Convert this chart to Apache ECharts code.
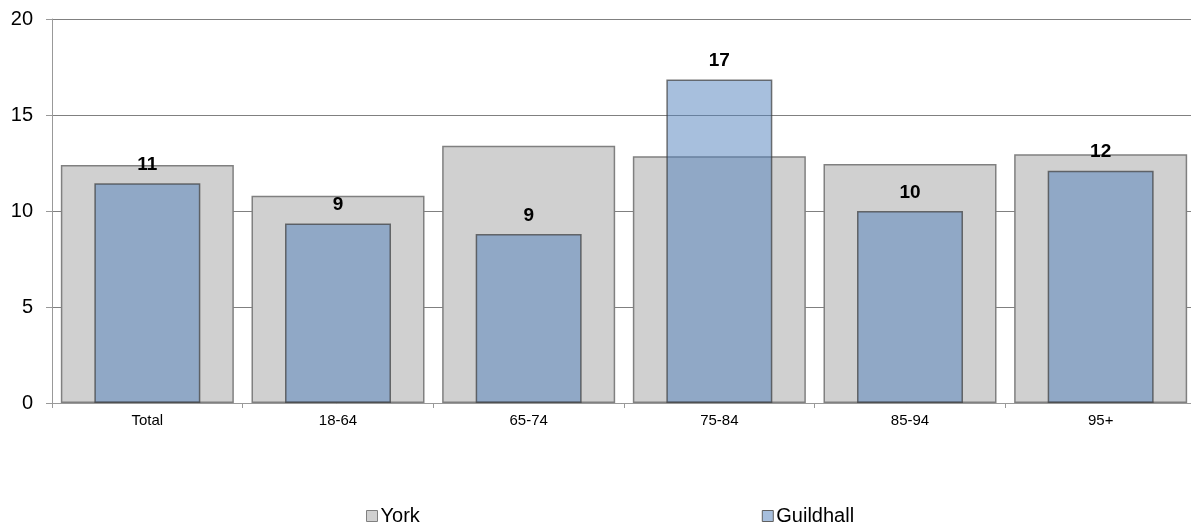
<!DOCTYPE html>
<html>
<head>
<meta charset="utf-8">
<script src="https://cdn.jsdelivr.net/npm/echarts@6/dist/echarts.min.js"></script>
<style>
  html, body { margin: 0; padding: 0; background: #fff; }
  #chart { width: 1191px; height: 527px; }
</style>
</head>
<body>
<div id="chart"></div>
<script>
const categories = ['Total', '18-64', '65-74', '75-84', '85-94', '95+'];
const yorkValues = [12.4, 10.8, 13.4, 12.85, 12.45, 12.95];
const guildhallValues = [11.45, 9.35, 8.8, 16.85, 10.0, 12.1];

const chart = echarts.init(document.getElementById('chart'), null, {
  renderer: 'canvas',
  devicePixelRatio: 1,
});

const option = {
  animation: false,
  textStyle: { fontFamily: 'Liberation Sans, Arial, sans-serif' },
  grid: { left: 52, top: 19, right: -5, height: 384, containLabel: false, outerBoundsMode: 'none' },
  legend: {
    top: 501,
    left: 361,
    itemGap: 342,
    itemWidth: 11,
    itemHeight: 11,
    icon: 'rect',
    textStyle: { fontSize: 20, color: '#000', padding: [0, 0, 0, -2] },
    data: [
      { name: 'York', itemStyle: { color: '#d0d0d0', borderColor: '#808080', borderWidth: 1 } },
      { name: 'Guildhall', itemStyle: { color: '#a7bfdd', borderColor: '#606060', borderWidth: 1 } },
    ],
  },
  xAxis: [
    {
      type: 'category',
      data: categories,
      axisLine: { lineStyle: { color: '#999' } },
      axisTick: { show: true, length: 5, lineStyle: { color: '#999' } },
      axisLabel: { color: '#000', fontSize: 15, margin: 10 },
    },
    {
      type: 'category',
      data: categories,
      show: false,
      position: 'bottom',
    },
  ],
  yAxis: {
    type: 'value',
    min: 0,
    max: 20,
    interval: 5,
    axisLine: { show: true, lineStyle: { color: '#999' } },
    axisTick: { show: true, length: 6, lineStyle: { color: '#999' } },
    axisLabel: { color: '#000', fontSize: 20, margin: 19 },
    splitLine: { lineStyle: { color: '#808080', width: 1 } },
  },
  series: [
    {
      name: 'York',
      type: 'bar',
      xAxisIndex: 0,
      data: yorkValues,
      barWidth: 173,
      itemStyle: { color: '#d0d0d0', borderColor: '#808080', borderWidth: 1.5 },
      z: 2,
    },
    {
      name: 'Guildhall',
      type: 'bar',
      xAxisIndex: 1,
      data: guildhallValues,
      barWidth: 106,
      itemStyle: { color: 'rgba(79,127,187,0.5)', borderColor: 'rgba(60,60,60,0.7)', borderWidth: 1.5 },
      label: {
        show: true,
        position: 'top',
        distance: 9,
        fontSize: 19,
        fontWeight: 'bold',
        color: '#000',
        formatter: (p) => Math.round(p.value),
      },
      z: 3,
    },
  ],
};

chart.setOption(option);
</script>
</body>
</html>
